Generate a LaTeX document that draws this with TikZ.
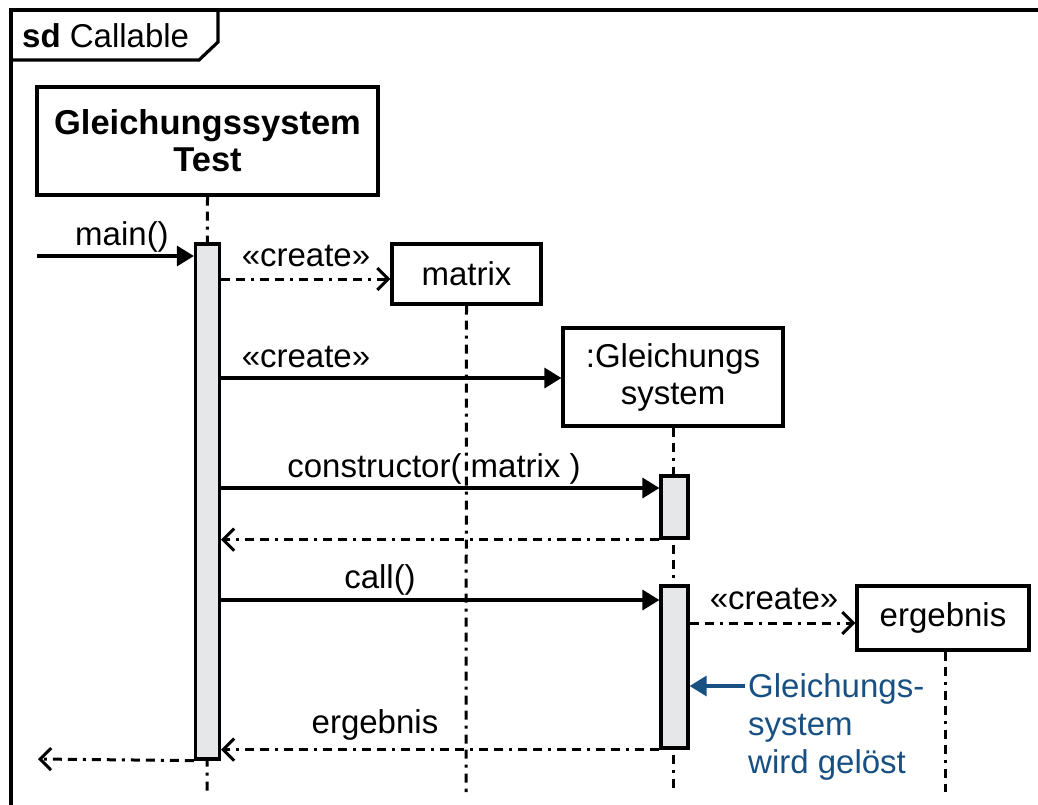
\documentclass[tikz,border=0pt]{standalone}
\usepackage{fontspec}
\setmainfont{Liberation Sans}
\usetikzlibrary{arrows.meta}
\definecolor{actfill}{RGB}{230,231,233}
\definecolor{noteblue}{RGB}{25,80,130}
\begin{document}
\begin{tikzpicture}[x=1pt,y=-1pt,
  every node/.style={font=\fontsize{33}{37}\selectfont},
  line/.style={line width=3.2pt},
  obj/.style={draw,line width=3.2pt,fill=white,inner sep=0pt,align=center},
  act/.style={draw,line width=3.2pt,fill=actfill,inner sep=0pt,minimum width=24pt},
  life/.style={line width=3pt,dash pattern=on 9pt off 6pt on 9pt off 6pt on 3pt off 6pt},
  call/.style={line width=3.2pt,-{Triangle[length=17pt,width=20pt]}},
  reply/.style={line width=3pt,dash pattern=on 9pt off 6pt on 9pt off 6pt on 3pt off 6pt,
    -{Straight Barb[length=11pt,width=22pt,line width=3pt]}},
  lbl/.style={anchor=base,inner sep=0pt}]
\useasboundingbox (0,0) rectangle (1038,804);

% frame and its name tag
\draw[line] (11,806) -- (11,10) -- (1040,10);
\draw[line] (11,60) -- (199,60) -- (218,42) -- (218,10);
\node[lbl,anchor=base west] (sd) at (22,47) {\textbf{sd} Callable};

% lifeline heads
\node[obj,minimum width=341pt,minimum height=108pt] (gst) at (207.5,141)
  {\fontsize{34.5}{37}\selectfont\textbf{Gleichungssystem}\\\fontsize{34.5}{37}\selectfont\textbf{Test}};
\node[obj,minimum width=149pt,minimum height=60pt] (matrix) at (466.5,274) {matrix};
\node[obj,minimum width=220pt,minimum height=98pt] (gls) at (673,377) {:Gleichungs\\system};
\node[obj,minimum width=172pt,minimum height=64pt] (erg) at (943,618) {ergebnis};

% lifelines
\coordinate (gstEnd) at (207,792);
\coordinate (matEnd) at (466,792);
\coordinate (glsEnd) at (673,792);
\coordinate (ergEnd) at (945,792);
\draw[life] (gst.south) -- (gstEnd);
\draw[life] (matrix.south) -- (matEnd);
\draw[life] (gls.south) -- (glsEnd);
\draw[life] (erg.south -| ergEnd) -- (ergEnd);

% activation bars
\node[act,minimum height=515pt] (bar1) at (207.5,501.5) {};
\node[act,minimum height=62pt,minimum width=27pt] (bar2) at (674.5,507) {};
\node[act,minimum height=162pt,minimum width=27pt] (bar3) at (674.5,667) {};

% messages
\coordinate (start) at (37,256);
\draw[call] (start) -- (bar1.west |- start);
\node[lbl] (lmain) at (122,245) {main()};

\draw[reply] (bar1.east |- 0,279) -- (matrix.west |- 0,279);
\node[lbl] (lcr1) at (306,266) {«create»};

\draw[call] (bar1.east |- 0,378) -- (gls.west |- 0,378);
\node[lbl] (lcr2) at (306,367) {«create»};

\draw[call] (bar1.east |- 0,488) -- (bar2.west |- 0,488);
\node[lbl] (lctor) at (434,477) {constructor( matrix )};

\draw[reply] (bar2.south west) -- (bar1.east |- bar2.south);

\draw[call] (bar1.east |- 0,600) -- (bar3.west |- 0,600);
\node[lbl] (lcall) at (380,588) {call()};

\draw[reply] (bar3.east |- 0,623) -- (erg.west |- 0,623);
\node[lbl] (lcr3) at (774,609) {«create»};

\draw[reply] (bar3.south west) -- (bar1.east |- bar3.south);
\node[lbl] (lerg) at (375,733) {ergebnis};

\coordinate (out) at (38,759);
\draw[reply] (bar1.south west) -- (out);

% note on the solving step
\node[lbl,anchor=base west,align=left,text=noteblue,font=\fontsize{33}{38}\selectfont]
  (note) at (748,773) {Gleichungs-\\system\\wird gelöst};
\coordinate (noteTip) at (745,686);
\draw[line,draw=noteblue,-{Triangle[length=17pt,width=20pt]},color=noteblue]
  (noteTip) -- (bar3.east |- noteTip);
\end{tikzpicture}
\end{document}
